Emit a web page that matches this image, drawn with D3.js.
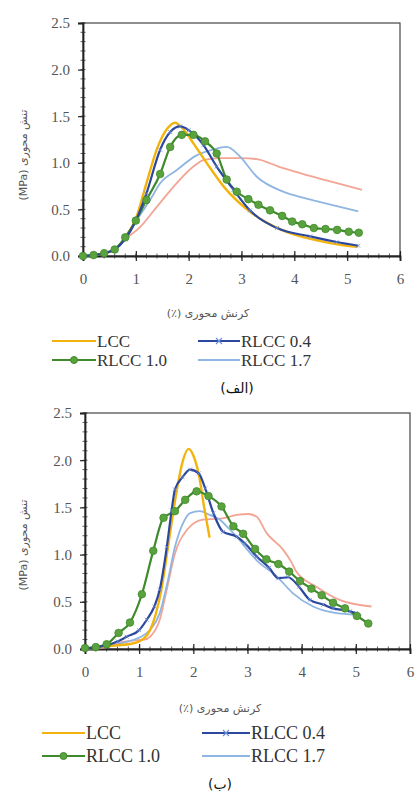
<!DOCTYPE html>
<html>
	<head>
		<meta charset="UTF-8" />
		<title>Stress-Strain</title>
		<script src="https://cdn.jsdelivr.net/npm/d3@7"></script>
		<style>
			body { margin: 0; background: #fff; }
			svg { display: block; }
		</style>
	</head>
	<body>
		<svg width="417" height="794"></svg>
		<script>
			const seriesNames = ["LCC", "RLCC 0.4", "RLCC 1.0", "RLCC 1.7"];
			const xTicks = [0, 1, 2, 3, 4, 5, 6];
			const yTicks = [0, 0.5, 1.0, 1.5, 2.0, 2.5];
			const captions = ["(الف)", "(ب)"];

			// panel (الف) : [strain %, stress MPa]
			const lccA = [[0,0],[0.2,0.01],[0.4,0.03],[0.6,0.07],[0.8,0.2],[1.0,0.4],[1.2,0.78],[1.4,1.15],[1.6,1.37],[1.74,1.43],[1.9,1.36],[2.1,1.2],[2.4,0.95],[2.7,0.72],[3.0,0.55],[3.5,0.35],[4.0,0.23],[4.5,0.16],[5.0,0.11],[5.2,0.1]];
			const r04A = [[0,0],[0.2,0.01],[0.4,0.03],[0.6,0.07],[0.8,0.18],[1.0,0.38],[1.2,0.67],[1.46,1.14],[1.65,1.33],[1.84,1.39],[2.0,1.35],[2.28,1.19],[2.53,0.96],[2.85,0.71],[3.16,0.49],[3.67,0.3],[4.3,0.21],[4.8,0.15],[5.21,0.11]];
			const r10A = [[0,0],[0.2,0.01],[0.4,0.03],[0.6,0.07],[0.8,0.2],[1.0,0.38],[1.2,0.6],[1.46,0.88],[1.65,1.17],[1.87,1.3],[2.09,1.3],[2.31,1.23],[2.53,1.1],[2.72,0.82],[2.91,0.69],[3.13,0.61],[3.32,0.55],[3.54,0.49],[3.77,0.43],[3.96,0.37],[4.15,0.34],[4.37,0.3],[4.59,0.29],[4.81,0.28],[5.03,0.26],[5.22,0.25]];
			const r17A = [[0,0],[0.2,0.01],[0.4,0.03],[0.6,0.07],[0.8,0.2],[1.0,0.37],[1.14,0.49],[1.3,0.63],[1.46,0.78],[1.77,0.92],[2.15,1.08],[2.45,1.14],[2.72,1.17],[2.95,1.08],[3.29,0.85],[3.79,0.69],[4.2,0.62],[4.55,0.57],[5.21,0.48]];
			const extraA = [[0,0],[0.2,0.01],[0.4,0.03],[0.6,0.07],[0.8,0.18],[1.08,0.31],[1.4,0.53],[1.77,0.78],[2.09,0.96],[2.28,1.03],[2.6,1.05],[3.0,1.05],[3.29,1.04],[3.7,0.96],[4.11,0.89],[4.68,0.8],[5.28,0.71]];

			// panel (ب)
			const lccB = [[0,0],[0.2,0.02],[0.4,0.03],[0.6,0.04],[0.8,0.05],[1.0,0.08],[1.2,0.2],[1.4,0.6],[1.55,1.15],[1.7,1.7],[1.8,1.98],[1.91,2.12],[2.0,2.05],[2.1,1.85],[2.2,1.5],[2.3,1.18]];
			const r04B = [[0,0],[0.2,0.02],[0.4,0.04],[0.6,0.08],[0.77,0.13],[1.0,0.2],[1.14,0.31],[1.28,0.45],[1.38,0.63],[1.51,1.08],[1.6,1.47],[1.66,1.69],[1.8,1.82],[1.94,1.9],[2.1,1.86],[2.22,1.7],[2.37,1.44],[2.55,1.24],[2.8,1.19],[2.95,1.12],[3.17,0.98],[3.4,0.86],[3.57,0.75],[3.75,0.76],[3.95,0.66],[4.15,0.52],[4.4,0.47],[4.58,0.43],[4.89,0.4],[5.0,0.38]];
			const r10B = [[0,0.01],[0.2,0.02],[0.4,0.05],[0.62,0.17],[0.83,0.28],[1.05,0.58],[1.26,1.04],[1.45,1.39],[1.66,1.46],[1.85,1.58],[2.06,1.67],[2.28,1.62],[2.52,1.51],[2.74,1.3],[2.92,1.22],[3.14,1.06],[3.35,0.95],[3.57,0.9],[3.77,0.82],[3.97,0.72],[4.18,0.64],[4.37,0.57],[4.58,0.49],[4.8,0.43],[5.02,0.35],[5.23,0.27]];
			const r17B = [[0,0],[0.2,0.02],[0.4,0.03],[0.6,0.05],[0.8,0.08],[1.0,0.12],[1.2,0.2],[1.38,0.38],[1.52,0.7],[1.66,1.08],[1.8,1.32],[1.94,1.44],[2.12,1.46],[2.3,1.42],[2.49,1.37],[2.65,1.28],[2.86,1.15],[3.0,1.05],[3.17,0.94],[3.54,0.77],[3.84,0.59],[4.21,0.45],[4.64,0.38],[5.1,0.36]];
			const extraB = [[0,0],[0.2,0.01],[0.4,0.02],[0.6,0.06],[0.89,0.09],[1.1,0.1],[1.2,0.13],[1.38,0.31],[1.51,0.63],[1.66,1.01],[1.88,1.26],[2.18,1.37],[2.5,1.38],[2.8,1.42],[3.02,1.43],[3.17,1.4],[3.35,1.23],[3.66,1.05],[3.81,0.92],[3.9,0.82],[4.27,0.66],[4.7,0.52],[5.29,0.45]];

			const colors = {
				lcc: "#f2b40c",
				r04: "#2c479e",
				r10: "#3f8a2c",
				r10dot: "#5aa23e",
				r17: "#8fb5e2",
				extra: "#f3a595",
			};

			const svg = d3.select("svg");
			const serif = "'Liberation Serif', 'DejaVu Serif', serif";
			const arabic = "'DejaVu Sans', sans-serif";

			function drawPanel(p, data) {
				const x = d3.scaleLinear().domain([0, 6]).range([p.left, p.right]);
				const y = d3.scaleLinear().domain([0, 2.5]).range([p.bottom, p.top]);
				const g = svg.append("g");

				// frame
				g.append("rect")
					.attr("x", p.left).attr("y", p.top)
					.attr("width", p.right - p.left).attr("height", p.bottom - p.top)
					.attr("fill", "none").attr("stroke", "#444").attr("stroke-width", 1.2);

				// minor ticks
				d3.range(0, 6.01, 0.2).forEach((v) => {
					g.append("line")
						.attr("x1", x(v)).attr("x2", x(v))
						.attr("y1", p.bottom - 2.5).attr("y2", p.bottom + 2.5)
						.attr("stroke", "#333").attr("stroke-width", 0.8);
				});
				d3.range(0, 2.51, 0.1).forEach((v) => {
					g.append("line")
						.attr("x1", p.left - 2.5).attr("x2", p.left + 2.5)
						.attr("y1", y(v)).attr("y2", y(v))
						.attr("stroke", "#333").attr("stroke-width", 0.8);
				});

				// axes
				const xAxis = d3.axisBottom(x).tickValues(xTicks).tickFormat(d3.format("d")).tickSize(5).tickPadding(12);
				const yAxis = d3.axisLeft(y).tickValues(yTicks).tickFormat(d3.format(".1f")).tickSize(5).tickPadding(8);
				const gx = g.append("g").attr("transform", `translate(0,${p.bottom})`).call(xAxis);
				const gy = g.append("g").attr("transform", `translate(${p.left},0)`).call(yAxis);
				[gx, gy].forEach((a) => {
					a.select(".domain").attr("stroke", "#222").attr("stroke-width", 1.8);
					a.selectAll(".tick line").attr("stroke", "#222").attr("stroke-width", 1.2);
					a.selectAll(".tick text")
						.attr("fill", "#555")
						.style("font-family", serif)
						.style("font-size", p.tickSize + "px");
				});
				gx.selectAll(".tick line").attr("y1", -5);

				// axis titles
				g.append("text")
					.attr("transform", `translate(${p.yLabelX},${p.yLabelY}) rotate(-90)`)
					.attr("text-anchor", "middle")
					.attr("direction", "rtl")
					.attr("fill", "#555")
					.style("font-family", arabic)
					.style("font-size", "11px")
					.text("تنش محوری (MPa)");
				g.append("text")
					.attr("x", p.xTitleX).attr("y", p.xTitleY)
					.attr("text-anchor", "middle")
					.attr("direction", "rtl")
					.attr("fill", "#555")
					.style("font-family", arabic)
					.style("font-size", "11px")
					.text("کرنش محوری (٪)");

				const line = d3.line().x((d) => x(d[0])).y((d) => y(d[1])).curve(d3.curveMonotoneX);
				const layers = [
					{ pts: data.extra, color: colors.extra, w: 1.8 },
					{ pts: data.r17, color: colors.r17, w: 1.8 },
					{ pts: data.lcc, color: colors.lcc, w: 2.4 },
					{ pts: data.r10, color: colors.r10, w: 2.2 },
					{ pts: data.r04, color: colors.r04, w: 2.2 },
				];
				layers.forEach((s) => {
					g.append("path")
						.datum(s.pts)
						.attr("d", line)
						.attr("fill", "none")
						.attr("stroke", s.color)
						.attr("stroke-width", s.w)
						.attr("stroke-linejoin", "round");
				});

				// x markers on RLCC 0.4
				g.selectAll(".xm")
					.data(data.r04)
					.enter()
					.append("path")
					.attr("d", (d) => {
						const cx = x(d[0]), cy = y(d[1]);
						return `M${cx - 2},${cy - 2}L${cx + 2},${cy + 2}M${cx - 2},${cy + 2}L${cx + 2},${cy - 2}`;
					})
					.attr("stroke", "#6f8fd6")
					.attr("stroke-width", 1)
					.attr("opacity", 0.8);

				// circle markers on RLCC 1.0
				g.selectAll(".dot")
					.data(data.r10)
					.enter()
					.append("circle")
					.attr("cx", (d) => x(d[0]))
					.attr("cy", (d) => y(d[1]))
					.attr("r", 3.8)
					.attr("fill", colors.r10dot)
					.attr("stroke", colors.r10)
					.attr("stroke-width", 0.8);

				// legend
				const leg = [
					{ name: seriesNames[0], color: colors.lcc, col: 0, row: 0, mark: null },
					{ name: seriesNames[1], color: colors.r04, col: 1, row: 0, mark: "x" },
					{ name: seriesNames[2], color: colors.r10, col: 0, row: 1, mark: "dot" },
					{ name: seriesNames[3], color: colors.r17, col: 1, row: 1, mark: null },
				];
				leg.forEach((l) => {
					const x0 = p.legX[l.col][0], x1 = p.legX[l.col][1];
					const ly = p.legY[l.row];
					g.append("line")
						.attr("x1", x0).attr("x2", x1).attr("y1", ly).attr("y2", ly)
						.attr("stroke", l.color).attr("stroke-width", 2.2);
					const mx = (x0 + x1) / 2;
					if (l.mark === "dot") {
						g.append("circle").attr("cx", mx).attr("cy", ly).attr("r", 3.5)
							.attr("fill", colors.r10dot).attr("stroke", colors.r10);
					} else if (l.mark === "x") {
						g.append("path")
							.attr("d", `M${mx - 3},${ly - 3}L${mx + 3},${ly + 3}M${mx - 3},${ly + 3}L${mx + 3},${ly - 3}`)
							.attr("stroke", "#6f8fd6").attr("stroke-width", 1.2);
					}
					g.append("text")
						.attr("x", x1 + 1).attr("y", ly + p.legSize * 0.33)
						.attr("fill", "#333")
						.style("font-family", serif)
						.style("font-size", p.legSize + "px")
						.text(l.name);
				});

				g.append("text")
					.attr("x", p.capX).attr("y", p.capY)
					.attr("text-anchor", "middle")
					.attr("fill", "#111")
					.style("font-family", arabic)
					.style("font-size", "14px")
					.text(p.caption);
			}

			drawPanel(
				{
					left: 83, right: 400, top: 23, bottom: 256,
					tickSize: 15, yLabelX: 27, yLabelY: 155,
					xTitleX: 208, xTitleY: 317,
					legX: [[52, 96], [198, 240]], legY: [341, 360], legSize: 17,
					caption: captions[0], capX: 237, capY: 393,
				},
				{ lcc: lccA, r04: r04A, r10: r10A, r17: r17A, extra: extraA }
			);
			drawPanel(
				{
					left: 85, right: 410, top: 413, bottom: 649,
					tickSize: 15, yLabelX: 27, yLabelY: 545,
					xTitleX: 220, xTitleY: 712,
					legX: [[42, 85], [202, 250]], legY: [733, 756], legSize: 18,
					caption: captions[1], capX: 220, capY: 789,
				},
				{ lcc: lccB, r04: r04B, r10: r10B, r17: r17B, extra: extraB }
			);
		</script>
	</body>
</html>
